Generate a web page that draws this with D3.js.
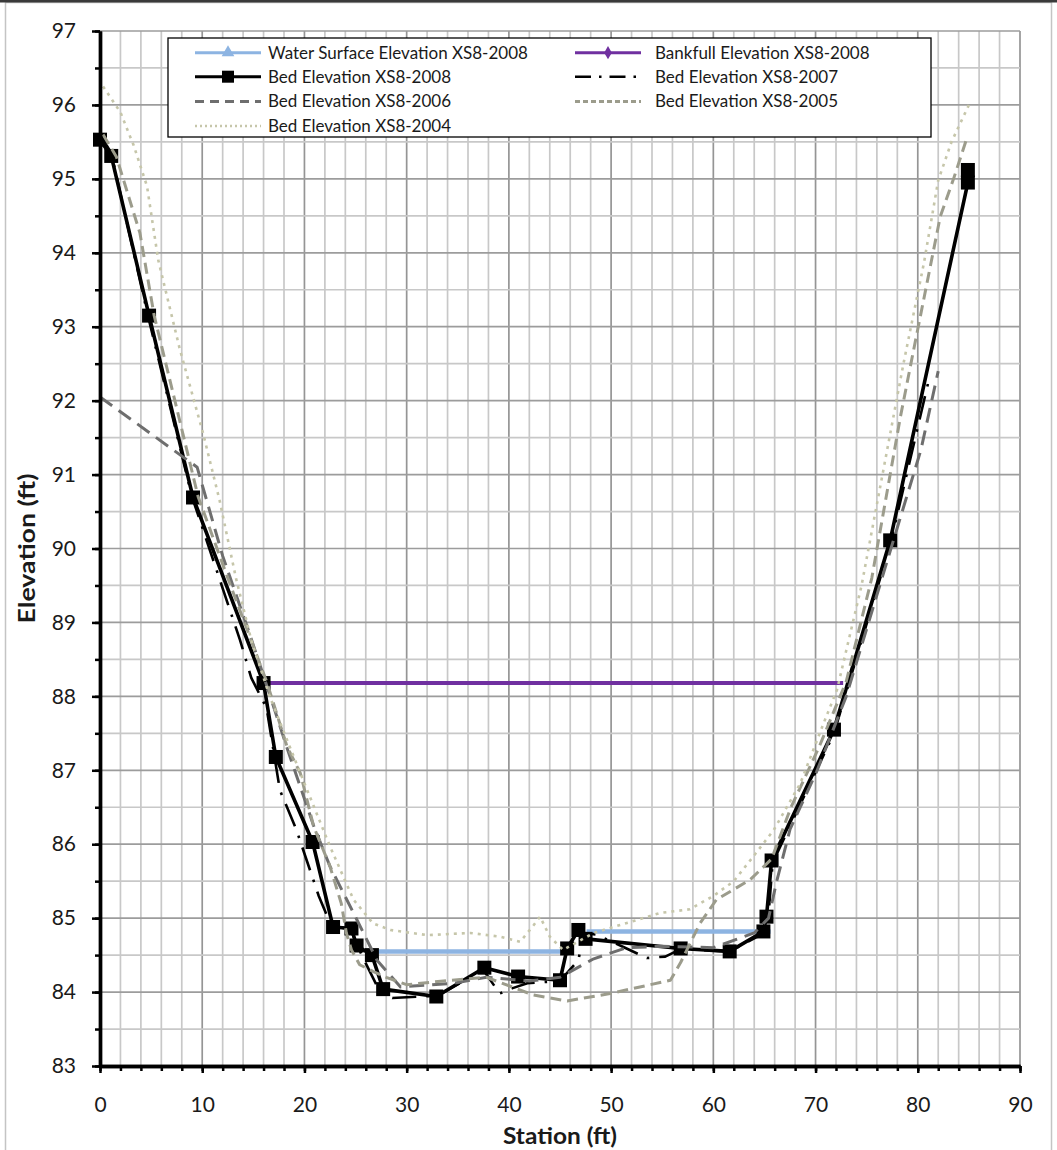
<!DOCTYPE html>
<html>
<head>
<meta charset="utf-8">
<script src="https://cdn.jsdelivr.net/npm/d3@7"></script>
<style>
  body { margin: 0; background: #fff; }
  svg { display: block; }
  text { font-family: Lato, "Open Sans", sans-serif; fill: #1a1a1a; }
</style>
</head>
<body>
<svg id="chart" width="1057" height="1150"></svg>
<script>
// Cross-section XS8: station (ft) vs elevation (ft)
const waterSurface2008 = [[27.0, 84.55], [45.3, 84.55], null, [47.6, 84.82], [65.6, 84.82]];
const bankfull2008 = [[16.0, 88.18], [72.7, 88.18]];
const bed2008 = [[0.0, 95.53], [1.1, 95.31], [4.8, 93.15], [9.1, 90.69], [16.0, 88.18], [17.2, 87.18],
  [20.8, 86.03], [22.8, 84.88], [24.6, 84.86], [25.1, 84.63], [26.6, 84.50], [27.7, 84.04],
  [32.9, 83.94], [37.6, 84.33], [40.9, 84.21], [45.0, 84.16], [45.7, 84.59], [46.8, 84.84],
  [47.5, 84.72], [56.8, 84.59], [61.6, 84.55], [64.9, 84.82], [65.2, 85.02], [65.7, 85.78],
  [71.8, 87.55], [77.3, 90.11], [84.9, 94.95], [84.9, 95.12]];
const bed2007 = [[0.0, 95.6], [1.1, 95.35], [4.6, 93.2], [9.0, 90.7], [13.7, 88.76], [14.8, 88.25],
  [16.3, 87.84], [17.6, 86.73], [19.2, 86.2], [21.4, 85.3], [22.6, 84.9], [24.5, 84.85], [25.6, 84.5],
  [27.4, 84.0], [28.6, 83.92], [33.0, 83.95], [37.5, 84.3], [39.1, 83.98], [40.3, 84.05], [41.8, 84.12],
  [45.0, 84.15], [46.8, 84.43], [47.3, 84.8], [48.5, 84.78], [51.2, 84.61], [53.5, 84.46], [55.3, 84.48],
  [56.8, 84.58], [61.6, 84.55], [65.0, 84.8], [65.4, 85.05], [65.8, 85.75], [71.8, 87.5], [77.3, 90.05],
  [81.2, 92.35]];
const bed2006 = [[0.0, 92.05], [4.5, 91.6], [9.5, 91.1], [12.0, 89.9], [14.5, 88.9], [16.3, 88.15],
  [18.3, 87.3], [20.9, 86.25], [22.5, 85.7], [24.8, 85.07], [27.1, 84.43], [29.4, 84.07], [34.6, 84.12],
  [37.8, 84.2], [42.0, 84.15], [45.0, 84.2], [48.3, 84.45], [51.5, 84.6], [55.0, 84.62], [60.0, 84.6],
  [64.0, 84.8], [65.4, 85.0], [66.2, 85.5], [67.5, 86.2], [70.1, 86.98], [73.0, 88.0], [76.5, 89.6],
  [80.3, 91.33], [82.0, 92.4]];
const bed2005 = [[0.3, 95.6], [1.6, 95.3], [3.9, 94.27], [5.3, 93.15], [7.5, 91.9], [9.6, 90.7],
  [12.5, 89.6], [16.3, 88.2], [18.3, 87.32], [19.6, 86.96], [20.9, 86.24], [22.5, 85.7], [23.6, 85.2],
  [24.1, 84.8], [24.6, 84.57], [25.4, 84.37], [26.7, 84.28], [28.0, 84.2], [30.0, 84.1], [33.6, 84.15],
  [37.8, 84.2], [42.4, 83.96], [45.7, 83.88], [49.9, 83.98], [55.8, 84.16], [56.8, 84.4], [58.7, 84.93],
  [60.3, 85.25], [63.6, 85.52], [65.7, 85.8], [67.6, 86.5], [70.3, 87.3], [73.0, 88.2], [75.5, 89.6],
  [78.3, 91.78], [79.6, 92.69], [80.9, 93.59], [82.2, 94.49], [83.5, 95.0], [84.8, 95.55]];
const bed2004 = [[0.3, 96.25], [2.0, 95.9], [3.3, 95.45], [4.6, 94.9], [5.7, 93.9], [7.8, 92.7],
  [10.1, 91.55], [11.7, 90.65], [13.3, 89.6], [14.8, 88.76], [16.6, 88.0], [19.6, 86.96], [22.5, 85.97],
  [24.8, 85.25], [26.7, 84.93], [28.4, 84.84], [32.0, 84.77], [36.2, 84.8], [39.1, 84.75], [41.1, 84.68],
  [42.4, 84.9], [43.05, 85.02], [44.0, 84.75], [45.3, 84.57], [48.3, 84.8], [54.8, 85.07], [57.7, 85.12],
  [60.0, 85.3], [62.0, 85.5], [64.0, 85.85], [65.9, 86.19], [68.5, 86.82], [70.8, 87.64], [72.1, 88.09],
  [74.5, 89.5], [77.0, 91.33], [78.6, 92.5], [80.6, 93.86], [82.0, 94.98], [83.3, 95.5], [85.0, 96.0]];

const yTicks = d3.range(83, 98, 1);
const yMinorTicks = d3.range(83, 97.01, 0.5);
const xTicks = d3.range(0, 91, 10);
const xMinorTicks = d3.range(0, 91, 2);

// series styling, drawn in list order (later series on top)
const seriesList = [
  { name: "Water Surface Elevation XS8-2008", data: waterSurface2008, color: "#8DB4E2", width: 4.5, dash: null, keyDash: null, marker: "triangle" },
  { name: "Bankfull Elevation XS8-2008", data: bankfull2008, color: "#7030A0", width: 4, dash: null, keyDash: null, marker: "diamond" },
  { name: "Bed Elevation XS8-2008", data: bed2008, color: "#000000", width: 3.6, dash: null, keyDash: null, marker: "square" },
  { name: "Bed Elevation XS8-2007", data: bed2007, color: "#000000", width: 2.6, dash: "24,10,2.5,10", keyDash: "16,8,2.5,8", marker: null },
  { name: "Bed Elevation XS8-2006", data: bed2006, color: "#6E6E6E", width: 3, dash: "15,8", keyDash: "9,6", marker: null },
  { name: "Bed Elevation XS8-2005", data: bed2005, color: "#9C9C8C", width: 3, dash: "11,6", keyDash: "5,3", marker: null },
  { name: "Bed Elevation XS8-2004", data: bed2004, color: "#C6C6AA", width: 2.6, dash: "3,5", keyDash: "2,3", marker: null }
];

const svg = d3.select("#chart");
const W = 1057, H = 1150;
const plot = { left: 100, right: 1020, top: 31, bottom: 1066 };

const x = d3.scaleLinear().domain([0, 90]).range([plot.left, plot.right]);
const y = d3.scaleLinear().domain([83, 97]).range([plot.bottom, plot.top]);

// chart frame
svg.append("rect").attr("x", 0).attr("y", 0).attr("width", W).attr("height", H).attr("fill", "#fff");
svg.append("rect").attr("x", 5.5).attr("y", 2.5).attr("width", W - 11).attr("height", H + 10)
  .attr("fill", "none").attr("stroke", "#c4c4c4").attr("stroke-width", 1.5);
svg.append("rect").attr("x", 0).attr("y", 0).attr("width", W).attr("height", 2.5).attr("fill", "#3a3a3a");

// gridlines
const grid = svg.append("g");
grid.selectAll("line.v").data(xMinorTicks).join("line")
  .attr("x1", d => x(d)).attr("x2", d => x(d)).attr("y1", plot.top).attr("y2", plot.bottom)
  .attr("stroke", d => d % 10 === 0 ? "#959595" : "#c8c8c8").attr("stroke-width", 1.7);
grid.selectAll("line.h").data(yMinorTicks).join("line")
  .attr("y1", d => y(d)).attr("y2", d => y(d)).attr("x1", plot.left).attr("x2", plot.right)
  .attr("stroke", d => Number.isInteger(d) ? "#9c9c9c" : "#c8c8c8").attr("stroke-width", 1.7);

// series lines
const line = d3.line().defined(d => d !== null).x(d => x(d[0])).y(d => y(d[1]));
const seriesG = svg.append("g");
seriesList.forEach(s => {
  seriesG.append("path").datum(s.data).attr("d", line)
    .attr("fill", "none").attr("stroke", s.color).attr("stroke-width", s.width)
    .attr("stroke-dasharray", s.dash).attr("stroke-linejoin", "round");
  if (s.marker === "square") {
    const m = 14;
    seriesG.append("g").selectAll("rect").data(s.data.filter(d => d)).join("rect")
      .attr("x", d => x(d[0]) - m / 2).attr("y", d => y(d[1]) - m / 2)
      .attr("width", m).attr("height", m).attr("fill", s.color);
  }
});

// axes
const axisStyle = g => {
  g.select(".domain").attr("stroke", "#000").attr("stroke-width", 3.4);
  g.selectAll(".tick line").attr("stroke", "#000").attr("stroke-width", 2.5);
  g.selectAll("text").attr("font-size", 21).attr("fill", "#1a1a1a");
};
svg.append("g").attr("transform", `translate(${plot.left},0)`)
  .call(d3.axisLeft(y).tickValues(yMinorTicks).tickSize(5).tickFormat("").tickSizeOuter(0)).call(axisStyle);
svg.append("g").attr("transform", `translate(${plot.left},0)`)
  .call(d3.axisLeft(y).tickValues(yTicks).tickSize(8).tickPadding(16).tickSizeOuter(0)).call(axisStyle);
svg.append("g").attr("transform", `translate(0,${plot.bottom})`)
  .call(d3.axisBottom(x).tickValues(xMinorTicks).tickSize(5).tickFormat("").tickSizeOuter(0)).call(axisStyle);
svg.append("g").attr("transform", `translate(0,${plot.bottom})`)
  .call(d3.axisBottom(x).tickValues(xTicks).tickSize(7).tickPadding(24).tickSizeOuter(0)).call(axisStyle);

// axis titles
svg.append("text").attr("transform", `translate(35,${(plot.top + plot.bottom) / 2}) rotate(-90)`)
  .attr("text-anchor", "middle").attr("font-size", 22).attr("font-weight", "bold")
  .attr("textLength", 150).attr("lengthAdjust", "spacingAndGlyphs").text("Elevation (ft)");
svg.append("text").attr("x", (plot.left + plot.right) / 2).attr("y", 1144)
  .attr("text-anchor", "middle").attr("font-size", 22).attr("font-weight", "bold")
  .attr("textLength", 114).attr("lengthAdjust", "spacingAndGlyphs").text("Station (ft)");

// legend
const legend = svg.append("g");
legend.append("rect").attr("x", 168).attr("y", 38).attr("width", 763).attr("height", 99)
  .attr("fill", "#fff").attr("stroke", "#000").attr("stroke-width", 1.3);
const legendPos = [[0, 0], [1, 0], [0, 1], [1, 1], [0, 2], [1, 2], [0, 3]];
const colX = [195, 575], rowY = [52.7, 76.7, 101.5, 126];
seriesList.forEach((s, i) => {
  const [c, r] = legendPos[i];
  const x0 = colX[c], yy = rowY[r], len = 66;
  legend.append("line").attr("x1", x0).attr("x2", x0 + len).attr("y1", yy).attr("y2", yy)
    .attr("stroke", s.color).attr("stroke-width", Math.min(s.width, 3))
    .attr("stroke-dasharray", s.keyDash);
  const cx = x0 + len / 2;
  if (s.marker === "square") {
    legend.append("rect").attr("x", cx - 6).attr("y", yy - 6).attr("width", 12).attr("height", 12).attr("fill", s.color);
  } else if (s.marker === "triangle") {
    legend.append("path").attr("d", d3.symbol(d3.symbolTriangle, 70)()).attr("transform", `translate(${cx},${yy})`).attr("fill", s.color);
  } else if (s.marker === "diamond") {
    legend.append("path").attr("d", d3.symbol(d3.symbolDiamond, 50)()).attr("transform", `translate(${cx},${yy})`).attr("fill", s.color);
  }
  legend.append("text").attr("x", c === 0 ? 268 : 655).attr("y", yy).attr("dy", "0.35em")
    .attr("font-size", 17).text(s.name);
});
</script>
</body>
</html>
